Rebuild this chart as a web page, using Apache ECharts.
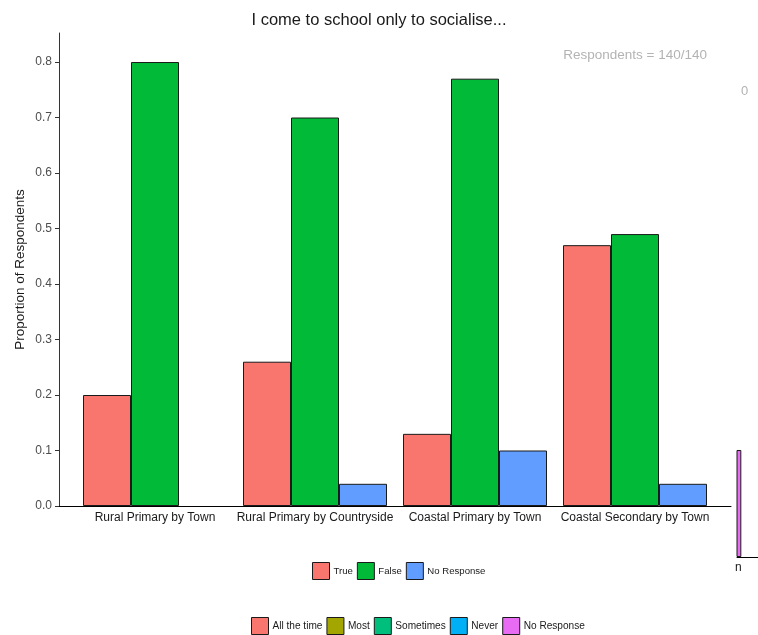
<!DOCTYPE html>
<html>
<head>
<meta charset="utf-8">
<script src="https://cdn.jsdelivr.net/npm/echarts@6/dist/echarts.min.js"></script>
<style>html,body{margin:0;padding:0;background:#fff}#c{width:758px;height:635px}</style>
</head>
<body>
<div id="c"></div>
<script>
// ---- data ----
const categories = ['Rural Primary by Town', 'Rural Primary by Countryside', 'Coastal Primary by Town', 'Coastal Secondary by Town'];
const trueVals = [0.20, 0.26, 0.13, 0.47];
const falseVals = [0.80, 0.70, 0.77, 0.49];
const noRespVals = [null, 0.04, 0.10, 0.04];
const yTicks = [0, 0.1, 0.2, 0.3, 0.4, 0.5, 0.6, 0.7, 0.8];
// fragment of the neighbouring (clipped) chart on the right edge
const fragCategories = ['n', '', '', '', '', '', '', ''];
const fragAllTime = [null];
const fragMost = [null];
const fragSometimes = [null];
const fragNever = [null];
const fragNoResp = [1];

const FONT = 'Liberation Sans, Arial, sans-serif';
const chart = echarts.init(document.getElementById('c'), null, {renderer: 'canvas'});
const border = {borderColor: '#1a1a1a', borderWidth: 1};
const fragNames = ['All the time', 'Most', 'Sometimes', 'Never', 'No Response '];
const fragColors = ['#F8766D', '#A3A500', '#00BF7D', '#00B0F6', '#E76BF3'];
const fragData = [fragAllTime, fragMost, fragSometimes, fragNever, fragNoResp];

function legendCommon(size, font) {
  return {
    itemWidth: size, itemHeight: size, itemGap: 4, icon: 'rect', padding: 0,
    itemStyle: {borderColor: '#1a1a1a', borderWidth: 1},
    textStyle: {fontSize: font, color: '#1a1a1a', fontFamily: FONT, padding: [0, 0, 0, -1]}
  };
}

const option = {
  animation: false,
  textStyle: {fontFamily: FONT},
  title: [
    {text: 'I come to school only to socialise...', left: 'center', top: 7,
     textStyle: {fontSize: 16.5, fontWeight: 'normal', color: '#1a1a1a', fontFamily: FONT}},
    {text: 'Respondents = 140/140', right: 46, top: 43,
     textStyle: {fontSize: 13.5, fontWeight: 'normal', color: '#b3b3b3', fontFamily: FONT}},
    {text: '0', left: 736, top: 80,
     textStyle: {fontSize: 13, fontWeight: 'normal', color: '#b3b3b3', fontFamily: FONT}}
  ],
  legend: [
    Object.assign({data: ['True', 'False', 'No Response'], left: 312, top: 562}, legendCommon(17, 9.6)),
    Object.assign({data: fragNames, left: 251, top: 617, formatter: n => n.trim()}, legendCommon(17, 10.1))
  ],
  grid: [
    {left: 75, width: 640, top: 33, height: 473},
    {left: 59, width: 672, top: 33, height: 473},
    {left: 737, width: 48, top: 450, height: 107}
  ],
  xAxis: [
    {type: 'category', gridIndex: 0, data: categories, axisLine: {show: false}, axisTick: {show: false},
     axisLabel: {fontSize: 12, color: '#1a1a1a', margin: 6, interval: 0, fontFamily: FONT}},
    {type: 'value', gridIndex: 1, min: 0, max: 1, axisLine: {show: true, lineStyle: {color: '#000', width: 1}},
     axisTick: {show: false}, axisLabel: {show: false}, splitLine: {show: false}},
    {type: 'category', gridIndex: 2, data: fragCategories, axisLine: {show: true, lineStyle: {color: '#000', width: 1}},
     axisTick: {show: false}, axisLabel: {fontSize: 12, color: '#1a1a1a', margin: 5, interval: 0, fontFamily: FONT}}
  ],
  yAxis: [
    {type: 'value', gridIndex: 0, min: 0, max: 0.8523, show: false, splitLine: {show: false}},
    {type: 'value', gridIndex: 1, min: 0, max: 0.8523, interval: 0.1,
     name: 'Proportion of Respondents', nameLocation: 'middle', nameRotate: 90, nameGap: 32,
     nameMoveOverlap: false,
     nameTextStyle: {fontSize: 13.5, color: '#1a1a1a', fontFamily: FONT},
     axisLine: {show: true, lineStyle: {color: '#333', width: 1}},
     axisTick: {show: true, length: 4, lineStyle: {color: '#333'}, customValues: yTicks},
     axisLabel: {fontSize: 12, color: '#4d4d4d', margin: 7, customValues: yTicks,
                 formatter: v => Number(v).toFixed(1), fontFamily: FONT},
     splitLine: {show: false}},
    {type: 'value', gridIndex: 2, min: 0, max: 1, show: false, splitLine: {show: false}}
  ],
  series: [
    {name: 'True', type: 'bar', xAxisIndex: 0, yAxisIndex: 0, data: trueVals, barWidth: 48, barGap: '0%',
     itemStyle: Object.assign({color: '#F8766D'}, border)},
    {name: 'False', type: 'bar', xAxisIndex: 0, yAxisIndex: 0, data: falseVals, barWidth: 48, barGap: '0%',
     itemStyle: Object.assign({color: '#00BA38'}, border)},
    {name: 'No Response', type: 'bar', xAxisIndex: 0, yAxisIndex: 0, data: noRespVals, barWidth: 48, barGap: '0%',
     itemStyle: Object.assign({color: '#619CFF'}, border)}
  ].concat(fragNames.map((n, i) => ({
    name: n, type: 'bar', xAxisIndex: 2, yAxisIndex: 2, data: fragData[i], barWidth: 6, barGap: '-100%',
    itemStyle: Object.assign({color: fragColors[i]}, border)
  })))
};
chart.setOption(option);
</script>
</body>
</html>
